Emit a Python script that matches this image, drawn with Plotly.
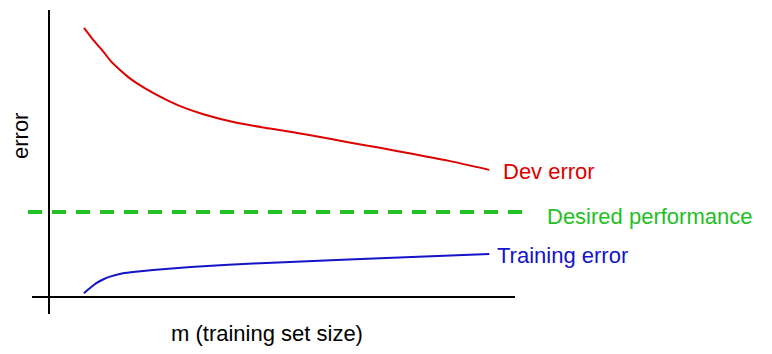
import plotly.graph_objects as go

# Data (m = training set size, arbitrary units; error arbitrary units)
dev_m = [7.51, 9.44, 11.65, 13.30, 15.24, 16.95, 18.82, 22.32, 25.97, 29.40, 33.11, 40.28,
         47.42, 56.72, 63.88, 71.03, 78.18, 85.34, 94.49]
dev_err = [9.38, 8.97, 8.55, 8.21, 7.91, 7.67, 7.45, 7.11, 6.81, 6.57, 6.37, 6.07,
           5.87, 5.62, 5.40, 5.20, 4.98, 4.76, 4.43]

train_m = [7.51, 8.80, 10.24, 11.59, 13.09, 15.88, 19.10, 22.32, 27.68, 33.11, 43.84,
           51.72, 71.03, 94.49]
train_err = [0.13, 0.31, 0.49, 0.61, 0.71, 0.83, 0.89, 0.94, 1.01, 1.07, 1.17,
             1.22, 1.35, 1.50]

desired_m = [-4.5, 101.7]
desired_err = [2.96, 2.96]

labels = {"dev": "Dev error", "desired": "Desired performance", "train": "Training error"}
x_title = "m (training set size)"
y_title = "error"

RED = "#dd0000"
GREEN = "#22c022"
BLUE = "#1414c8"
FONT = "Liberation Sans, Arial, Helvetica, sans-serif"
FS = 22

W, H = 772, 354
# pixel mapping: m=0 at px 49, m=100 at px 515; err=0 at py 297, err=10 at py 10
sx = (515 - 49) / 100.0
sy = (297 - 10) / 10.0
xr = [-49 / sx, (W - 49) / sx]
yr = [-(H - 297) / sy, 297 / sy]

fig = go.Figure()

# axes (drawn as lines crossing at origin with small overhang)
ov_x = 17 / sx
ov_y = 17 / sy
fig.add_trace(go.Scatter(x=[0, 0], y=[-ov_y, 10], mode="lines",
                         line=dict(color="black", width=2), hoverinfo="skip"))
fig.add_trace(go.Scatter(x=[-ov_x, 100], y=[0, 0], mode="lines",
                         line=dict(color="black", width=2), hoverinfo="skip"))

fig.add_trace(go.Scatter(x=desired_m, y=desired_err, mode="lines",
                         line=dict(color=GREEN, width=4, dash="14px,10px")))
fig.add_trace(go.Scatter(x=dev_m, y=dev_err, mode="lines", line_shape="spline",
                         line=dict(color=RED, width=2, smoothing=0.6)))
fig.add_trace(go.Scatter(x=train_m, y=train_err, mode="lines", line_shape="spline",
                         line=dict(color=BLUE, width=2, smoothing=0.6)))

fig.add_annotation(x=dev_m[-1], y=dev_err[-1], text=labels["dev"], showarrow=False,
                   xanchor="left", yanchor="middle", xshift=12, yshift=-2,
                   font=dict(color=RED, size=FS, family=FONT))
fig.add_annotation(x=desired_m[-1], y=desired_err[-1], text=labels["desired"], showarrow=False,
                   xanchor="left", yanchor="middle", xshift=22, yshift=-4,
                   font=dict(color=GREEN, size=FS, family=FONT))
fig.add_annotation(x=train_m[-1], y=train_err[-1], text=labels["train"], showarrow=False,
                   xanchor="left", yanchor="middle", xshift=6, yshift=-2,
                   font=dict(color=BLUE, size=FS, family=FONT))

fig.add_annotation(xref="paper", yref="paper", x=267 / W, y=1 - 333 / H, text=x_title,
                   showarrow=False, xanchor="center", yanchor="middle",
                   font=dict(color="black", size=FS, family=FONT))
fig.add_annotation(xref="paper", yref="paper", x=20 / W, y=1 - 136 / H, text=y_title,
                   showarrow=False, xanchor="center", yanchor="middle", textangle=-90,
                   font=dict(color="black", size=FS, family=FONT))

fig.update_layout(
    width=W, height=H, margin=dict(l=0, r=0, t=0, b=0),
    paper_bgcolor="white", plot_bgcolor="white", showlegend=False,
    xaxis=dict(range=xr, visible=False, fixedrange=True),
    yaxis=dict(range=yr, visible=False, fixedrange=True),
)

fig.write_html("out.html")
